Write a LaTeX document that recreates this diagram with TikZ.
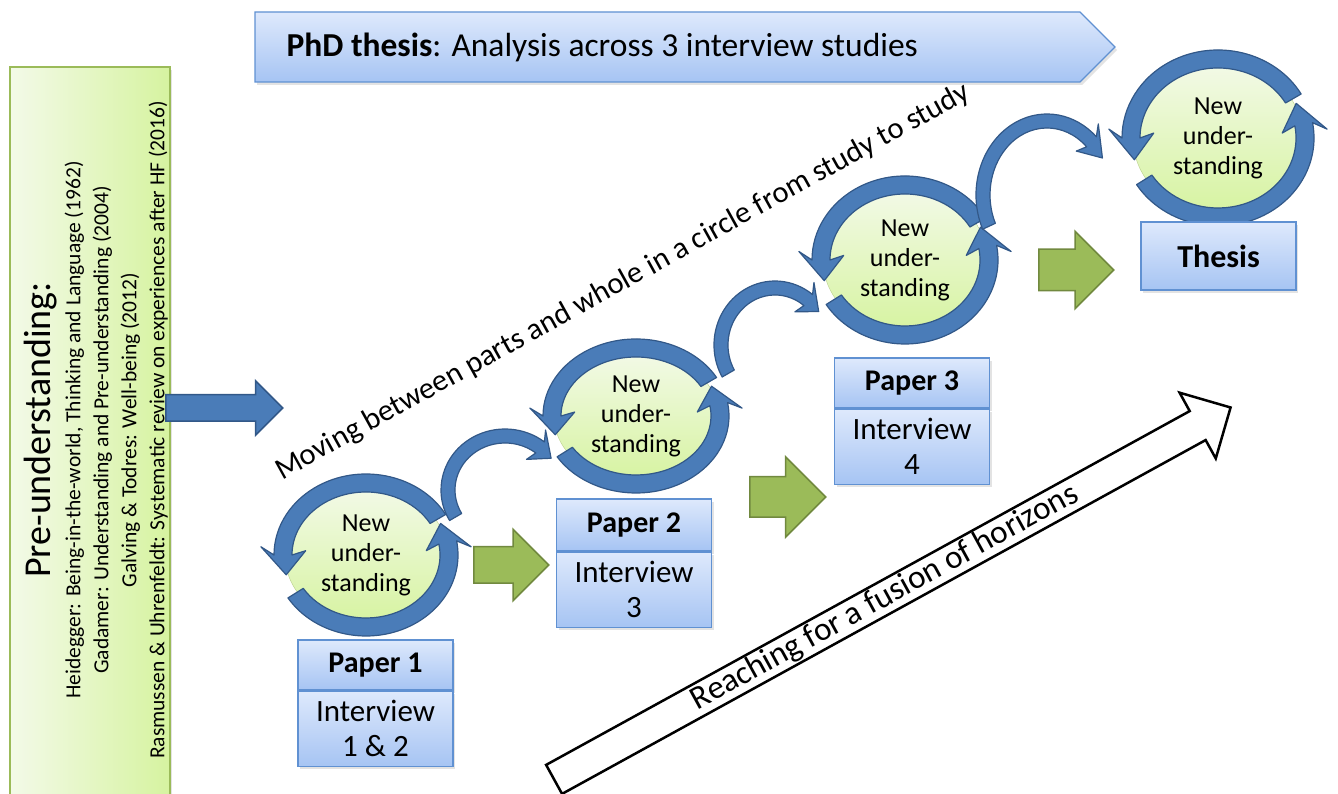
\documentclass[tikz,border=0pt]{standalone}
\usepackage{fontspec}
\setmainfont{Carlito}
\usetikzlibrary{calc, positioning, shapes.geometric, shapes.arrows, shadows}

\definecolor{ringblue}{RGB}{74,124,184}
\definecolor{ringedge}{RGB}{50,88,136}
\definecolor{boxtop}{RGB}{222,233,252}
\definecolor{boxbot}{RGB}{166,196,243}
\definecolor{boxedge}{RGB}{96,145,210}
\definecolor{leafgreen}{RGB}{155,187,89}
\definecolor{leafedge}{RGB}{113,137,63}
\definecolor{palegreen}{RGB}{243,250,232}
\definecolor{limegreen}{RGB}{214,243,160}

% curved block arrow round a centre: centre, x radius, y radius, start, end, half width
\newcommand{\bendarrow}[6]{%
  \pgfmathsetmacro{\bdir}{(#5>#4)*2-1}%
  \filldraw[ringarrow] ($(#1)+(#4:{#2+#6} and {#3+#6})$)
    arc[start angle=#4, end angle=#5, x radius=#2+#6, y radius=#3+#6]
    -- ($(#1)+({#5-5*\bdir}:{#2+2.5*#6} and {#3+2.5*#6})$)
    -- ($(#1)+({#5+16*\bdir}:#2 and #3)$)
    -- ($(#1)+({#5-5*\bdir}:{#2-2.5*#6} and {#3-2.5*#6})$)
    -- ($(#1)+(#5:{#2-#6} and {#3-#6})$)
    arc[start angle=#5, end angle=#4, x radius=#2-#6, y radius=#3-#6]
    -- cycle;
}

\begin{document}
\begin{tikzpicture}[
    x=1pt, y=1pt,
    softshadow/.style={drop shadow={opacity=0.22, shadow xshift=2pt, shadow yshift=-3pt}},
    prebox/.style={draw=leafgreen, line width=1.2pt, left color=palegreen, right color=limegreen, softshadow},
    pretext/.style={rotate=90, align=center, font=\fontsize{21.5}{28}\selectfont},
    banner/.style={draw=boxedge, line width=1.2pt, top color=boxtop, bottom color=boxbot, softshadow},
    papertop/.style={draw=boxedge, line width=1.2pt, top color=boxtop, bottom color=boxbot,
        minimum width=155pt, inner sep=0pt, font=\fontsize{30}{34}\selectfont\bfseries, softshadow},
    paperbody/.style={papertop, minimum height=75pt, align=center, font=\fontsize{31}{35}\selectfont},
    newund/.style={ellipse, draw=leafgreen!70, top color=palegreen, bottom color=limegreen,
        inner sep=0pt, align=center, font=\fontsize{26}{30}\selectfont},
    ringarrow/.style={fill=ringblue, draw=ringedge, line width=1.2pt, line join=round},
    greenarrow/.style={single arrow, draw=leafedge, fill=leafgreen, line width=1.5pt,
        inner xsep=0pt, anchor=tail},
    leadarrow/.style={single arrow, draw=ringedge, fill=ringblue, line width=1.5pt,
        single arrow head extend=14pt, inner xsep=0pt, inner ysep=12.5pt, anchor=tail},
    horizon/.style={single arrow, draw=black, fill=white, line width=2.5pt,
        single arrow head extend=21pt, inner xsep=0pt, inner ysep=1pt, anchor=tail,
        font=\fontsize{33}{36}\selectfont}
]
    \useasboundingbox (0,0) rectangle (1338,794);

    % ---- pre-understanding box ----
    \draw[prebox] (10,-10) rectangle (170,727);
    \node[pretext] (pre) at (96,364) {{\fontsize{38}{42}\selectfont Pre-understanding:}\\[2pt]
        Heidegger: Being-in-the-world, Thinking and Language (1962)\\
        Gadamer: Understanding and Pre-understanding (2004)\\
        Galving \& Todres: Well-being (2012)\\
        Rasmussen \& Uhrenfeldt: Systematic review on experiences after HF (2016)};
    \node[leadarrow, minimum height=117pt, minimum width=53pt] (lead) at (165,386) {};

    % ---- banner ----
    \draw[banner] (255,782) -- (1080,782) -- (1115,747) -- (1080,712) -- (255,712) -- cycle;
    \node[anchor=west, font=\fontsize{33.5}{36}\selectfont] (phd) at (283,747)
        {\textbf{PhD thesis}: Analysis across 3 interview studies};

    \node[rotate=29, font=\fontsize{30.5}{34}\selectfont] (moving) at (623,512)
        {Moving between parts and whole in a circle from study to study};

    % ---- new understanding circles ----
    \node[newund, minimum width=162pt, minimum height=140pt] (und1) at (366,239) {New\\under-\\standing};
    \node[newund, minimum width=164pt, minimum height=132pt] (und2) at (636,378) {New\\under-\\standing};
    \node[newund, minimum width=164pt, minimum height=146pt] (und3) at (905,534) {New\\under-\\standing};
    \node[newund, minimum width=170pt, minimum height=154pt] (und4) at (1218,656) {New\\under-\\standing};

    \bendarrow{und1}{83}{72}{30}{180}{9}
    \bendarrow{und1}{83}{72}{212}{370}{9}
    \bendarrow{und2}{84}{68}{30}{180}{9}
    \bendarrow{und2}{84}{68}{212}{370}{9}
    \bendarrow{und3}{84}{75}{30}{180}{9}
    \bendarrow{und3}{84}{75}{212}{370}{9}
    \bendarrow{und4}{87}{79}{30}{180}{9}
    \bendarrow{und4}{87}{79}{212}{370}{9}

    % ---- links from circle to circle ----
    \coordinate (hub12) at (505,304);
    \coordinate (hub23) at (775,449);
    \coordinate (hub34) at (1047,599);
    \bendarrow{hub12}{57}{54}{210}{52}{7}
    \bendarrow{hub23}{54}{57}{210}{52}{7}
    \bendarrow{hub34}{64}{74}{205}{46}{7}

    % ---- papers ----
    \node[papertop, minimum height=50pt] (pap1) at (375.5,129) {Paper 1};
    \node[paperbody, below=0pt of pap1] (int1) {Interview\\1 \& 2};
    \node[papertop, minimum height=52pt] (pap2) at (634,269) {Paper 2};
    \node[paperbody, below=0pt of pap2] (int2) {Interview\\3};
    \node[papertop, minimum height=50pt] (pap3) at (912,411) {Paper 3};
    \node[paperbody, below=0pt of pap3] (int3) {Interview\\4};
    \node[papertop, minimum height=68pt, font=\fontsize{32}{36}\selectfont\bfseries] (thesis) at (1218.5,538) {Thesis};

    % ---- green steps ----
    \node[greenarrow, inner ysep=17.5pt, single arrow head extend=17.5pt, minimum height=75pt] (step1) at (473,229) {};
    \node[greenarrow, inner ysep=19.5pt, single arrow head extend=20pt, minimum height=76pt] (step2) at (749,297) {};
    \node[greenarrow, inner ysep=20pt, single arrow head extend=18pt, minimum height=75pt] (step3) at (1038,524) {};

    % ---- fusion of horizons ----
    \node[horizon, rotate=28.8, minimum height=772pt, minimum width=74pt] (fusion) at (553,14)
        {Reaching for a fusion of horizons};
\end{tikzpicture}
\end{document}
